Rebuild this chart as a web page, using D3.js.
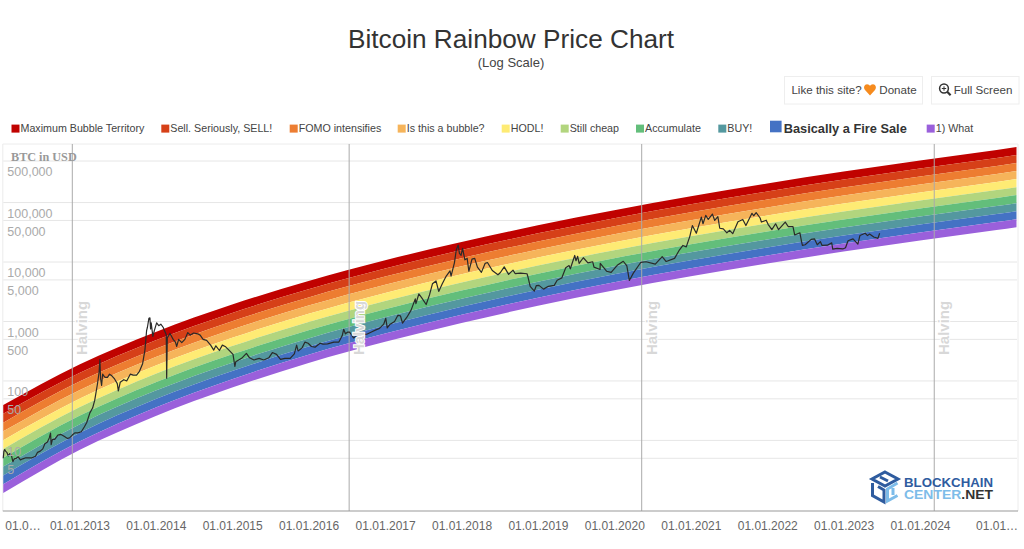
<!DOCTYPE html>
<html>
<head>
<meta charset="utf-8">
<title>Bitcoin Rainbow Price Chart</title>
<script src="https://cdn.jsdelivr.net/npm/d3@7"></script>
<style>
  body { margin: 0; background: #fff; }
  svg { display: block; }
  text { font-family: "Liberation Sans", Arial, sans-serif; }
</style>
</head>
<body>
<div id="chart"></div>
<script>
// Dates the band edges were read at
const bandDates = ["2012-01-03","2013-01-01","2014-01-01","2015-01-01","2016-01-01","2017-01-01","2018-01-01","2019-01-01","2020-01-01","2021-01-01","2022-01-01","2023-01-01","2024-01-01","2025-01-01","2025-04-06"];

// Band edges in USD, top edge of the chart downwards
const edge0  = [39.4, 189, 668, 1922, 4795, 10690, 21710, 41460, 74400, 127400, 210000, 332900, 511800, 768500, 856700];
const edge1  = [28.0, 135.7, 483, 1394, 3490, 7797, 15870, 30350, 54570, 93440, 154000, 244200, 375400, 563700, 628300];
const edge2  = [19.9, 97.4, 349, 1011, 2540, 5687, 11600, 22220, 40030, 68540, 113000, 179100, 275300, 413400, 460800];
const edge3  = [14.2, 69.9, 252, 733, 1849, 4148, 8480, 16270, 29360, 50270, 82900, 131400, 201900, 303200, 338000];
const edge4  = [10.1, 50.2, 182, 532, 1346, 3026, 6200, 11910, 21530, 36870, 60800, 96400, 148100, 222400, 247900];
const edge5  = [7.17, 36.0, 132, 386, 980, 2207, 4530, 8720, 15790, 27040, 44600, 70700, 108600, 163100, 181800];
const edge6  = [5.10, 25.9, 95.2, 280, 713, 1610, 3310, 6380, 11580, 19830, 32700, 51800, 79700, 119600, 133400];
const edge7  = [3.63, 18.6, 68.8, 203, 519, 1174, 2420, 4670, 8495, 14550, 24000, 38000, 58400, 87800, 97800];
const edge8  = [2.58, 13.3, 49.7, 147, 378, 856, 1770, 3420, 6230, 10670, 17600, 27900, 42900, 64400, 71700];
const edge9  = [1.83, 9.56, 35.9, 107, 275, 625, 1294, 2505, 4570, 7826, 12900, 20500, 31400, 47200, 52600];
const edge10 = [1.30, 6.87, 25.8, 77.2, 200, 455, 943, 1835, 3361, 5758, 9460, 15000, 23000, 34600, 38600];
const bandEdges = [edge0, edge1, edge2, edge3, edge4, edge5, edge6, edge7, edge8, edge9, edge10];

// Legend names + band colours
const bandNames = ["Maximum Bubble Territory","Sell. Seriously, SELL!","FOMO intensifies","Is this a bubble?","HODL!","Still cheap","Accumulate","BUY!","Basically a Fire Sale","1) What"];
const bandColors = ["#c00200","#d64018","#ed7d31","#f6b45a","#feeb74","#b2d57e","#63be7b","#54989f","#4472c4","#9a60db"];

// BTC price, one pair of arrays per year
const days2012 = ["01-03","01-06","01-10","01-14","01-20","01-27","02-03","02-10","02-18","02-25","03-05","03-15","03-25","04-05","04-20","05-05","05-20","06-05","06-15","06-28","07-10","07-20","08-01","08-10","08-16","08-19","08-25","09-05","09-20","10-05","10-20","11-05","11-15","11-28","12-10","12-25"];
const usd2012  = [5.0,6.5,7.0,6.6,6.3,5.5,6.0,5.8,4.4,4.9,5.0,5.3,4.7,4.9,5.1,5.1,5.1,5.4,6.3,6.6,7.2,8.8,9.4,11.0,13.3,8.5,10.4,10.4,12.3,12.6,11.7,10.8,11.0,12.3,13.4,13.4];
const days2013 = ["01-10","01-25","02-05","02-20","03-05","03-15","03-28","04-05","04-09","04-12","04-17","04-22","05-01","05-05","05-15","05-25","06-05","06-18","07-01","07-06","07-15","08-01","08-15","09-01","09-15","10-01","10-15","10-30","11-10","11-18","11-22","11-29","12-04","12-07","12-10","12-18","12-25"];
const usd2013  = [14,17,20,29,35,47,88,140,230,110,84,130,117,115,115,130,122,108,90,68,95,105,100,130,125,125,145,195,330,700,800,1130,1150,750,950,560,700];
const days2014 = ["01-05","01-15","01-25","02-05","02-20","02-22","02-25","03-01","03-10","03-25","04-05","04-11","04-20","05-05","05-20","06-03","06-15","07-01","07-20","08-01","08-15","09-01","09-20","10-05","10-15","11-01","11-15","12-01","12-20"];
const usd2014  = [950,850,900,800,600,111,530,560,630,500,450,380,500,440,500,650,590,640,620,590,500,480,400,330,390,325,400,375,320];
const days2015 = ["01-05","01-14","01-18","02-01","02-15","03-10","03-25","04-15","05-10","06-01","06-25","07-12","08-01","08-20","09-10","10-05","10-25","11-05","11-12","12-01","12-15","12-30"];
const usd2015  = [280,175,210,225,240,290,245,225,240,225,245,300,280,230,240,240,285,400,320,360,450,430];
const days2016 = ["01-15","02-01","02-25","03-10","04-01","05-01","05-25","06-10","06-17","06-25","07-05","07-15","08-03","08-20","09-15","10-05","10-25","11-15","12-05","12-25"];
const usd2016  = [380,370,430,415,420,450,450,580,740,620,660,660,530,575,605,610,660,715,765,900];
const days2017 = ["01-04","01-11","01-25","02-15","03-03","03-15","03-25","04-15","05-05","05-25","05-28","06-11","06-25","07-16","08-01","08-15","09-01","09-14","10-01","10-20","11-07","11-12","11-28","12-07","12-16","12-22","12-30"];
const usd2017  = [1130,780,900,1000,1270,1250,940,1180,1550,2400,2000,2900,2500,1930,2800,4300,4800,3200,4300,5800,7100,5800,9700,16000,19300,14000,13000];
const days2018 = ["01-06","01-17","01-28","02-05","02-20","03-05","03-18","04-06","04-24","05-05","05-28","06-24","07-05","07-24","08-14","09-04","09-14","10-10","11-10","11-15","11-25","12-15","12-24"];
const usd2018  = [17000,10900,11500,7000,11200,11500,8200,6700,9500,9800,7200,6100,6600,8300,6200,7300,6400,6500,6350,5500,3900,3250,4000];
const days2019 = ["01-06","01-28","02-20","03-20","04-03","04-25","05-14","05-30","06-05","06-26","07-02","07-10","07-17","08-06","08-28","09-20","09-26","10-25","10-26","11-25","12-17"];
const usd2019  = [4050,3500,3900,4050,4950,5400,8000,8700,7700,12900,10500,12500,9500,11800,9700,10100,8200,7500,9500,7000,6700];
const days2020 = ["01-15","02-13","03-01","03-13","04-01","05-07","06-01","07-15","08-17","09-05","10-15","11-05","11-24","12-10","12-27"];
const usd2020  = [8800,10300,8600,4900,6500,9900,10100,9200,12300,10200,11500,15500,19000,18000,27000];
const days2021 = ["01-08","01-27","02-20","02-28","03-13","03-25","04-14","04-25","05-10","05-19","06-05","06-22","07-05","07-20","08-14","09-06","09-21","10-20","10-28","11-09","11-28","12-04","12-27"];
const usd2021  = [41000,30500,57000,44000,61000,52000,64000,50000,58000,37000,36000,31000,34000,30000,47500,52000,41000,66000,60000,67500,55000,47000,50500];
const days2022 = ["01-05","01-23","02-10","02-24","03-28","04-11","05-04","05-12","06-06","06-14","06-18","07-01","07-30","08-15","08-28","09-12","09-20","10-15","11-05","11-10","12-01","12-28"];
const usd2022  = [43000,35000,44000,35000,47000,39500,39500,28500,31000,22000,19000,19500,24000,24500,19500,22000,19000,19200,21000,16500,17000,16600];
const days2023 = ["01-10","01-22","02-15","03-10","03-20","04-14","04-25","05-05","05-25","06-14","06-22"];
const usd2023  = [17400,22800,24500,20000,28000,30500,27800,29500,26400,25000,30500];

const priceYears = [2012,2013,2014,2015,2016,2017,2018,2019,2020,2021,2022,2023];
const priceDays = [days2012,days2013,days2014,days2015,days2016,days2017,days2018,days2019,days2020,days2021,days2022,days2023];
const priceUsd = [usd2012,usd2013,usd2014,usd2015,usd2016,usd2017,usd2018,usd2019,usd2020,usd2021,usd2022,usd2023];

// Halvings + axis ticks
const halvingDates = ["2012-11-28","2016-07-13","2020-05-11","2024-03-09"];
const yTicks = [5,10,50,100,500,1000,5000,10000,50000,100000,500000];
const xTickDates = ["2012-01-01","2013-01-01","2014-01-01","2015-01-01","2016-01-01","2017-01-01","2018-01-01","2019-01-01","2020-01-01","2021-01-01","2022-01-01","2023-01-01","2024-01-01","2025-01-01"];
const xTickLabels = ["01.0…","01.01.2013","01.01.2014","01.01.2015","01.01.2016","01.01.2017","01.01.2018","01.01.2019","01.01.2020","01.01.2021","01.01.2022","01.01.2023","01.01.2024","01.01…"];

const width = 1024;
const height = 549;
const plot = {left: 3.3, right: 1017, top: 144, bottom: 511};
const parseDate = d3.utcParse("%Y-%m-%d");

const svg = d3.select("#chart")
  .append("svg")
  .attr("width", width)
  .attr("height", height)
  .attr("viewBox", [0, 0, width, height]);

const x = d3.scaleUtc()
  .domain([parseDate(halvingDates[0]), parseDate(halvingDates[2])])
  .range([72.3, 641.7]);

const y = d3.scaleLog()
  .domain([5, 500000])
  .range([458.3, 161]);

/* Title + subtitle */
svg.append("text")
  .attr("x", 511).attr("y", 48)
  .attr("text-anchor", "middle")
  .attr("font-size", "26.2px")
  .attr("fill", "#333")
  .text("Bitcoin Rainbow Price Chart");

svg.append("text")
  .attr("x", 511).attr("y", 66.5)
  .attr("text-anchor", "middle")
  .attr("font-size", "13px")
  .attr("fill", "#444")
  .text("(Log Scale)");

/* Buttons */
const buttons = svg.append("g");
buttons.append("rect").attr("x", 784.5).attr("y", 76.5).attr("width", 138).attr("height", 27.5)
  .attr("fill", "#fff").attr("stroke", "#eee");
buttons.append("rect").attr("x", 931.5).attr("y", 76.5).attr("width", 87.5).attr("height", 27.5)
  .attr("fill", "#fff").attr("stroke", "#eee");
buttons.append("text").attr("x", 791.4).attr("y", 94).attr("font-size", "11.6px").attr("fill", "#444").text("Like this site?");
buttons.append("path")
  .attr("d", "M870 95.5 L865 90 C863 87.5 864.5 84.3 867 84.3 C868.5 84.3 869.5 85 870 86 C870.5 85 871.5 84.3 873 84.3 C875.5 84.3 877 87.5 875 90 Z")
  .attr("fill", "#f68b1e");
buttons.append("text").attr("x", 879.3).attr("y", 94).attr("font-size", "11.6px").attr("fill", "#444").text("Donate");
buttons.append("circle").attr("cx", 944).attr("cy", 88.5).attr("r", 4.4)
  .attr("fill", "none").attr("stroke", "#333").attr("stroke-width", 1.5);
buttons.append("path").attr("d", "M947.2 91.8 L950.6 95.2").attr("stroke", "#333").attr("stroke-width", 2.2);
buttons.append("path").attr("d", "M944 86.3 V90.7 M941.8 88.5 H946.2").attr("stroke", "#333").attr("stroke-width", 1);
buttons.append("text").attr("x", 953.7).attr("y", 94).attr("font-size", "11.6px").attr("fill", "#444").text("Full Screen");

/* Legend - item 8 is the big bold one */
const legendX = [11.5,161.3,289.7,397.7,501.7,560.7,636,718.3,770,926.7];
const legend = svg.append("g").selectAll("g")
  .data(bandNames)
  .enter()
  .append("g")
    .attr("transform", (d, i) => `translate(${legendX[i]},0)`);

legend.append("rect")
  .attr("y", (d, i) => i === 8 ? 120.7 : 124.6)
  .attr("width", (d, i) => i === 8 ? 11.6 : 8)
  .attr("height", (d, i) => i === 8 ? 11.6 : 8)
  .attr("fill", (d, i) => bandColors[i]);

legend.append("text")
  .attr("x", (d, i) => i === 8 ? 13.7 : 9)
  .attr("y", (d, i) => i === 8 ? 132.5 : 132)
  .attr("font-size", (d, i) => i === 8 ? "12.8px" : "10.7px")
  .attr("font-weight", (d, i) => i === 8 ? "bold" : "normal")
  .attr("fill", (d, i) => i === 8 ? "#333" : "#444")
  .text(d => d);

/* Frame + grid */
svg.append("path")
  .attr("d", `M${plot.left - 0.5} ${plot.bottom} V${plot.top} H${plot.right + 1} V${plot.bottom}`)
  .attr("fill", "none")
  .attr("stroke", "#ececec");

svg.append("g").selectAll("line")
  .data(yTicks)
  .enter()
  .append("line")
    .attr("x1", plot.left)
    .attr("x2", plot.right)
    .attr("y1", d => y(d))
    .attr("y2", d => y(d))
    .attr("stroke", "#e6e6e6");

/* Rainbow bands */
const bandPoints = bandDates.map(parseDate);
const bandArea = d3.area()
  .x((d, i) => x(bandPoints[i]))
  .y0(d => y(d.lower))
  .y1(d => y(d.upper))
  .curve(d3.curveMonotoneX);

svg.append("g").selectAll("path")
  .data(bandColors)
  .enter()
  .append("path")
    .attr("fill", d => d)
    .attr("d", (d, i) => bandArea(bandEdges[i].map((v, j) => ({upper: v, lower: bandEdges[i + 1][j]}))));

/* Halving lines */
svg.append("g").selectAll("line")
  .data(halvingDates)
  .enter()
  .append("line")
    .attr("x1", d => x(parseDate(d)))
    .attr("x2", d => x(parseDate(d)))
    .attr("y1", plot.top)
    .attr("y2", plot.bottom)
    .attr("stroke", "#aaa")
    .attr("stroke-width", 1);

/* Price line */
const priceData = priceYears.flatMap((year, i) =>
  priceDays[i].map((day, j) => ({date: parseDate(`${year}-${day}`), usd: priceUsd[i][j]})));

svg.append("path")
  .datum(priceData)
  .attr("fill", "none")
  .attr("stroke", "#2a2a2a")
  .attr("stroke-width", 1.2)
  .attr("stroke-linejoin", "round")
  .attr("d", d3.line().x(d => x(d.date)).y(d => y(d.usd)));

/* Y labels sit over the bands */
const yAxis = svg.append("g")
  .attr("transform", `translate(${plot.left},0)`)
  .call(d3.axisRight(y)
    .tickValues(yTicks)
    .tickSize(0)
    .tickFormat(d3.format(",")));
yAxis.select(".domain").remove();
yAxis.selectAll("text")
  .attr("x", 4)
  .attr("dy", 0)
  .attr("y", 14.8)
  .attr("text-anchor", "start")
  .attr("font-size", "12.5px")
  .attr("font-family", "Liberation Sans")
  .attr("fill", "#aaa");

svg.append("text")
  .attr("x", 11).attr("y", 161)
  .attr("font-weight", "bold")
  .attr("font-size", "12.2px")
  .attr("fill", "#999")
  .style("font-family", "'Liberation Serif', serif")
  .text("BTC in USD");

/* X axis */
const xAxis = svg.append("g")
  .attr("transform", `translate(0,${plot.bottom})`)
  .call(d3.axisBottom(x)
    .tickValues(xTickDates.map(parseDate))
    .tickSize(0)
    .tickFormat((d, i) => xTickLabels[i]));
xAxis.select(".domain").remove();
xAxis.selectAll("text")
  .attr("y", 19)
  .attr("dy", 0)
  .attr("font-size", "12px")
  .attr("font-family", "Liberation Sans")
  .attr("fill", "#666");
xAxis.selectAll("text").filter((d, i) => i === 0)
  .attr("text-anchor", "start")
  .attr("x", 2);

svg.append("line")
  .attr("x1", plot.left - 0.5).attr("x2", plot.right + 1)
  .attr("y1", plot.bottom).attr("y2", plot.bottom)
  .attr("stroke", "#999");

/* Halving labels */
svg.append("g").selectAll("text")
  .data(halvingDates)
  .enter()
  .append("text")
    .attr("transform", d => `translate(${x(parseDate(d)) + 15},355) rotate(-90)`)
    .attr("font-size", "15px")
    .attr("font-weight", "bold")
    .attr("fill", "#d8d8d8")
    .attr("stroke", "#fff")
    .attr("stroke-width", 2)
    .attr("paint-order", "stroke")
    .text("Halving");

/* Logo */
const logo = svg.append("g");
logo.append("path")
  .attr("d", "M885 472 L898 479 L885 486 L872 479 Z M880 477 L888 481")
  .attr("fill", "none").attr("stroke", "#2f5c9f").attr("stroke-width", 3);
logo.append("path")
  .attr("d", "M872.5 483 V495.5 L884 502 V490 L878 486.5")
  .attr("fill", "none").attr("stroke", "#2f5c9f").attr("stroke-width", 3);
logo.append("path")
  .attr("d", "M897.5 483 L887.5 489 V501 L897.5 495.5 M893 488 V495")
  .attr("fill", "none").attr("stroke", "#7dbce9").attr("stroke-width", 3);
logo.append("text")
  .attr("x", 904).attr("y", 487)
  .attr("font-size", "12.4px").attr("font-weight", "bold")
  .attr("textLength", 89).attr("lengthAdjust", "spacingAndGlyphs")
  .attr("fill", "#2f5c9f")
  .text("BLOCKCHAIN");
const logoLine2 = logo.append("text")
  .attr("x", 904).attr("y", 499)
  .attr("font-size", "12.4px").attr("font-weight", "bold")
  .attr("textLength", 89).attr("lengthAdjust", "spacingAndGlyphs");
logoLine2.append("tspan").attr("fill", "#7dbce9").text("CENTER");
logoLine2.append("tspan").attr("fill", "#333").text(".NET");
</script>
</body>
</html>
